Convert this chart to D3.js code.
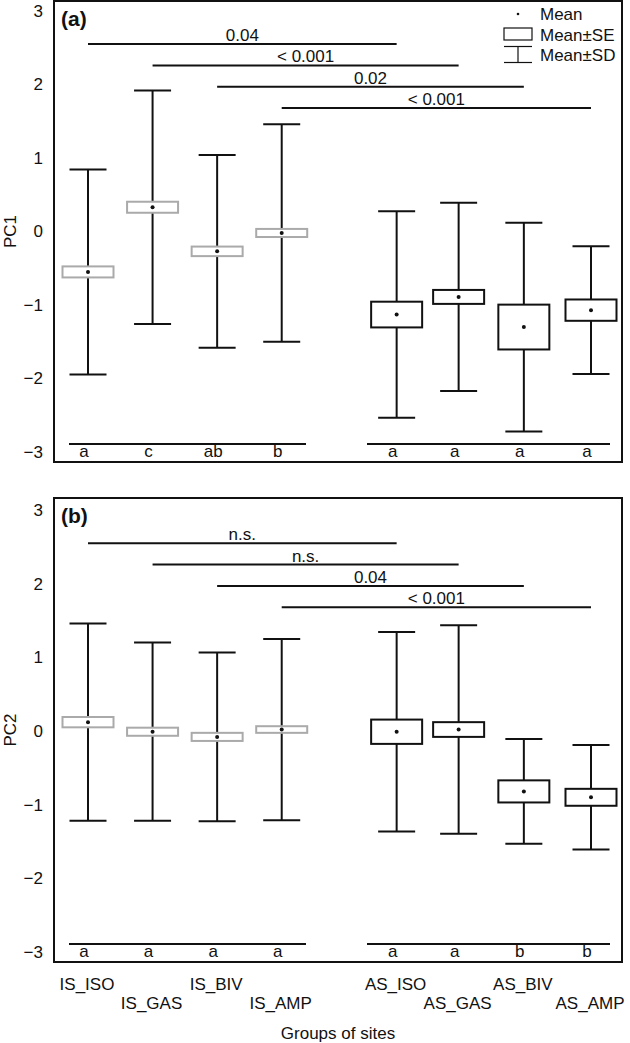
<!DOCTYPE html>
<html>
<head>
<meta charset="utf-8">
<script src="https://cdn.jsdelivr.net/npm/d3@7"></script>
<style>
  body { margin: 0; background: #fff; }
  svg text { font-family: "Liberation Sans", Arial, sans-serif; fill: #111; }
</style>
</head>
<body>
<script>
// groups of sites and their positions on the x axis
const groups = ["IS_ISO", "IS_GAS", "IS_BIV", "IS_AMP", "AS_ISO", "AS_GAS", "AS_BIV", "AS_AMP"];
const xPos = [1, 2, 3, 4, 5.78, 6.74, 7.75, 8.79];
const isGroup = [true, true, true, true, false, false, false, false];

// PC1 (panel a)
const pc1Mean = [-0.55, 0.33, -0.27, -0.02, -1.13, -0.89, -1.30, -1.07];
const pc1SE = [0.075, 0.075, 0.065, 0.055, 0.175, 0.095, 0.305, 0.145];
const pc1SD = [1.395, 1.59, 1.31, 1.48, 1.405, 1.28, 1.42, 0.87];
const pc1Letters = ["a", "c", "ab", "b", "a", "a", "a", "a"];
const pc1Pvals = ["0.04", "< 0.001", "0.02", "< 0.001"];

// PC2 (panel b)
const pc2Mean = [0.12, -0.01, -0.08, 0.02, -0.01, 0.02, -0.82, -0.90];
const pc2SE = [0.07, 0.055, 0.055, 0.045, 0.165, 0.10, 0.15, 0.115];
const pc2SD = [1.34, 1.21, 1.145, 1.23, 1.355, 1.415, 0.71, 0.71];
const pc2Letters = ["a", "a", "a", "a", "a", "a", "b", "b"];
const pc2Pvals = ["n.s.", "n.s.", "0.04", "< 0.001"];

// pairwise comparisons (IS vs AS) and their heights
const compPairs = [[0, 4], [1, 5], [2, 6], [3, 7]];
const compLevels = [2.55, 2.26, 1.97, 1.68];
const letterLevel = -2.89;
const yTicks = [-3, -2, -1, 0, 1, 2, 3];

const W = 630, H = 1043;
const left = 54, right = 622;

const svg = d3.select("body").append("svg")
  .attr("width", W).attr("height", H);

const x = d3.scaleLinear().domain([1, 8.79]).range([88, 591]);

function drawPanel(top, bottom, yTop, yBot, mean, se, sd, letters, pvals, tag, yLabel, legend) {
  const y = d3.scaleLinear().domain([-3, 3]).range([yBot, yTop]);
  const g = svg.append("g");

  // y axis labels only (no tick marks)
  const ax = g.append("g")
    .attr("transform", `translate(${left},0)`)
    .call(d3.axisLeft(y).tickValues(yTicks).tickSize(0).tickPadding(11).tickFormat(d3.format("d")));
  ax.select(".domain").remove();
  ax.selectAll("text").attr("font-family", null).style("font-size", "17px").attr("fill", "#111");

  // frame
  g.append("rect")
    .attr("x", left).attr("y", top)
    .attr("width", right - left).attr("height", bottom - top)
    .attr("fill", "none").attr("stroke", "#111").attr("stroke-width", 2);

  g.append("text")
    .attr("transform", `translate(16,${(top + bottom) / 2}) rotate(-90)`)
    .attr("text-anchor", "middle")
    .style("font-size", "17px")
    .text(yLabel);

  g.append("text")
    .attr("x", 61).attr("y", top + 25)
    .style("font-size", "21px").style("font-weight", "bold")
    .text(tag);

  const items = groups.map((name, i) => ({name, i, x: xPos[i], m: mean[i], se: se[i], sd: sd[i], is: isGroup[i]}));

  // SD whiskers
  const wh = g.selectAll(".wh").data(items).enter().append("g");
  wh.append("line")
    .attr("x1", d => x(d.x)).attr("x2", d => x(d.x))
    .attr("y1", d => y(d.m + d.sd)).attr("y2", d => y(d.m - d.sd))
    .attr("stroke", "#111").attr("stroke-width", 2);
  [1, -1].forEach(s => {
    wh.append("line")
      .attr("x1", d => x(d.x) - 18.5).attr("x2", d => x(d.x) + 18.5)
      .attr("y1", d => y(d.m + s * d.sd)).attr("y2", d => y(d.m + s * d.sd))
      .attr("stroke", "#111").attr("stroke-width", 2);
  });

  // SE boxes
  g.selectAll(".se").data(items).enter().append("rect")
    .attr("x", d => x(d.x) - 25.5).attr("width", 51)
    .attr("y", d => y(d.m + d.se)).attr("height", d => y(d.m - d.se) - y(d.m + d.se))
    .attr("fill", "#fff")
    .attr("stroke", d => d.is ? "#aaa" : "#111").attr("stroke-width", 2);

  // means
  g.selectAll(".mn").data(items).enter().append("circle")
    .attr("cx", d => x(d.x)).attr("cy", d => y(d.m)).attr("r", 2)
    .attr("fill", "#111");

  // comparison lines
  compPairs.forEach((p, k) => {
    const x1 = x(xPos[p[0]]), x2 = x(xPos[p[1]]), yy = y(compLevels[k]);
    g.append("line").attr("x1", x1).attr("x2", x2).attr("y1", yy).attr("y2", yy)
      .attr("stroke", "#111").attr("stroke-width", 2);
    g.append("text").attr("x", (x1 + x2) / 2).attr("y", yy - 3)
      .attr("text-anchor", "middle").style("font-size", "17px")
      .text(pvals[k]);
  });

  // letter lines
  const ly = y(letterLevel);
  g.append("line").attr("x1", 69).attr("x2", 306).attr("y1", ly).attr("y2", ly)
    .attr("stroke", "#111").attr("stroke-width", 2);
  g.append("line").attr("x1", 367).attr("x2", 610).attr("y1", ly).attr("y2", ly)
    .attr("stroke", "#111").attr("stroke-width", 2);
  g.selectAll(".lt").data(items).enter().append("text")
    .attr("x", d => x(d.x) - 4).attr("y", ly + 13)
    .attr("text-anchor", "middle").style("font-size", "17px")
    .text(d => letters[d.i]);

  if (legend) {
    const lg = g.append("g");
    lg.append("circle").attr("cx", 518).attr("cy", top + 13).attr("r", 1.3).attr("fill", "#111");
    lg.append("rect").attr("x", 504).attr("y", top + 27).attr("width", 28).attr("height", 12)
      .attr("fill", "none").attr("stroke", "#111").attr("stroke-width", 1.2);
    lg.append("line").attr("x1", 504).attr("x2", 532).attr("y1", top + 45.5).attr("y2", top + 45.5)
      .attr("stroke", "#111").attr("stroke-width", 1.2);
    lg.append("line").attr("x1", 518).attr("x2", 518).attr("y1", top + 45.5).attr("y2", top + 61.5)
      .attr("stroke", "#111").attr("stroke-width", 1.2);
    lg.append("line").attr("x1", 504).attr("x2", 532).attr("y1", top + 61.5).attr("y2", top + 61.5)
      .attr("stroke", "#111").attr("stroke-width", 1.2);
    ["Mean", "Mean±SE", "Mean±SD"].forEach((t, k) => {
      lg.append("text").attr("x", 540).attr("y", top + 19 + k * 20.5)
        .style("font-size", "17px").text(t);
    });
  }
}

drawPanel(1, 462, 11, 452, pc1Mean, pc1SE, pc1SD, pc1Letters, pc1Pvals, "(a)", "PC1", true);
drawPanel(498, 962, 510, 952, pc2Mean, pc2SE, pc2SD, pc2Letters, pc2Pvals, "(b)", "PC2", false);

// group labels, staggered
svg.selectAll(".gl").data(groups).enter().append("text")
  .attr("x", (d, i) => x(xPos[i]) - 1)
  .attr("y", (d, i) => i % 2 === 0 ? 990 : 1009)
  .attr("text-anchor", "middle").style("font-size", "17px")
  .text(d => d);

svg.append("text")
  .attr("x", (left + right) / 2).attr("y", 1039)
  .attr("text-anchor", "middle").style("font-size", "17px")
  .text("Groups of sites");
</script>
</body>
</html>
